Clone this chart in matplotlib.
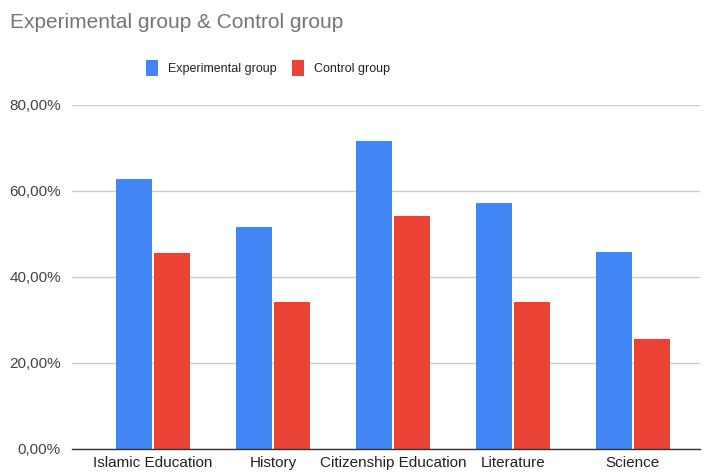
import numpy as np
import matplotlib
matplotlib.use("Agg")
import matplotlib.pyplot as plt
from matplotlib.ticker import FuncFormatter

# data
subjects = ["Islamic Education", "History", "Citizenship Education", "Literature", "Science"]
experimental = [0.627, 0.516, 0.716, 0.571, 0.457]
control = [0.456, 0.341, 0.543, 0.341, 0.256]

plt.rcParams['font.family'] = ['Liberation Sans', 'DejaVu Sans']

W, H = 704, 476
fig = plt.figure(figsize=(W / 100, H / 100), dpi=100)
left, right, top, bottom = 72, 700, 105, 449
ax = fig.add_axes([left / W, 1 - bottom / H, (right - left) / W, (bottom - top) / H])

x = np.arange(len(subjects))
bw = 0.3
ax.bar(x - bw / 2 - 0.01, experimental, bw, color="#4285F4", label="Experimental group", zorder=3)
ax.bar(x + bw / 2 + 0.01, control, bw, color="#EA4335", label="Control group", zorder=3)

ax.set_ylim(0, 0.8)
ax.set_xlim(-0.675, 4.56)
ax.set_yticks([0, 0.2, 0.4, 0.6, 0.8])
ax.yaxis.set_major_formatter(FuncFormatter(lambda v, p: f"{v*100:.2f}%".replace(".", ",")))
ax.grid(axis="y", color="#cccccc", linewidth=1, zorder=0)
for s in ["top", "right", "left"]:
    ax.spines[s].set_visible(False)
ax.spines["bottom"].set_color("#333333")
ax.spines["bottom"].set_linewidth(1)
ax.spines["bottom"].set_zorder(4)
ax.set_xticks(x)
ax.set_xticklabels(subjects, fontsize=11, color="#222222")
ax.tick_params(axis="both", length=0)
ax.tick_params(axis="y", labelsize=11, labelcolor="#444444", pad=8)
ax.tick_params(axis="x", pad=5)

fig.text(10 / W, 1 - 23 / H, "Experimental group & Control group", fontsize=15,
         color="#757575", va="center", ha="left")

fig.legend(loc="center", bbox_to_anchor=(268 / W, 1 - 68 / H), ncol=2, frameon=False,
           fontsize=9, handlelength=0.9, handleheight=1.5, handletextpad=0.8,
           columnspacing=1.3, labelcolor="#222222")

fig.savefig("out.png", dpi=100)
